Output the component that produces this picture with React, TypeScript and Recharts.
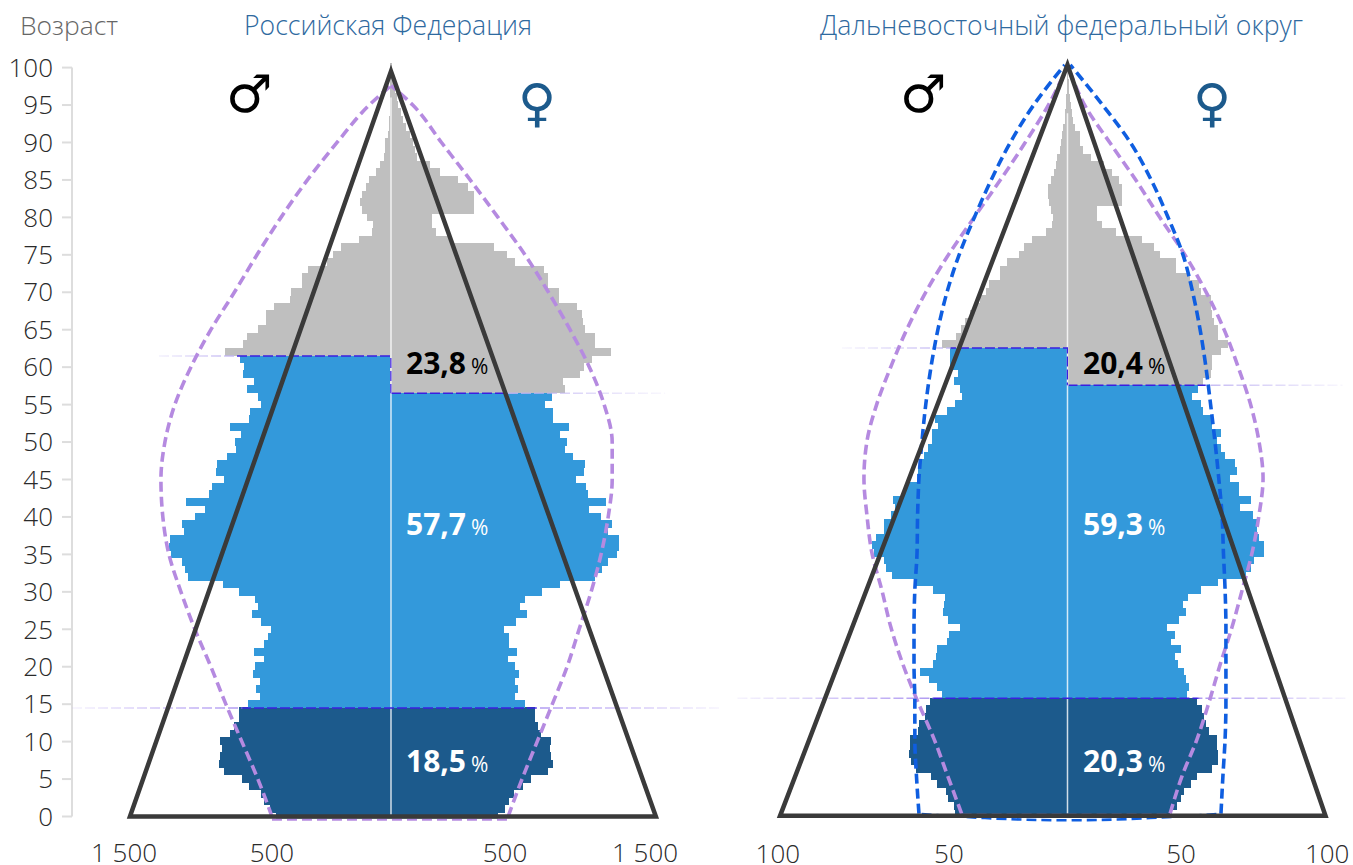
import React from "react";
import { Bar, Cell, ComposedChart, Line, XAxis, YAxis } from "recharts";

const AGE_TICKS = [0, 5, 10, 15, 20, 25, 30, 35, 40, 45, 50, 55, 60, 65, 70, 75, 80, 85, 90, 95, 100];

// thousand people, age 0 to 100
const leftMale = [
  657, 693, 727, 746, 812, 851, 954, 984, 978, 966,
  978, 921, 897, 871, 871, 816, 752, 770, 748, 788,
  776, 725, 782, 725, 701, 685, 742, 794, 764, 776,
  869, 960, 1162, 1179, 1196, 1259, 1271, 1265, 1185, 1196,
  1121, 1064, 1173, 1041, 1024, 955, 1001, 995, 937, 886,
  891, 857, 920, 811, 805, 742, 763, 822, 782, 845,
  840, 863, 949, 845, 822, 761, 713, 713, 667, 579,
  569, 508, 508, 473, 364, 330, 282, 182, 109, 100,
  134, 163, 173, 163, 138, 121, 86, 61, 38, 33,
  33, 15, 10, 10, 4, 2, 0, 0, 0, 0, 0,
];
const leftFemale = [
  614, 655, 673, 703, 758, 800, 897, 927, 915, 909,
  915, 857, 840, 822, 822, 770, 707, 725, 707, 731,
  707, 667, 719, 673, 673, 644, 713, 776, 741, 770,
  867, 966, 1169, 1208, 1242, 1294, 1305, 1305, 1242, 1265,
  1202, 1133, 1231, 1127, 1116, 1058, 1104, 1110, 1041, 995,
  1006, 966, 1018, 926, 926, 880, 920, 995, 983, 1081,
  1104, 1150, 1259, 1169, 1169, 1112, 1102, 1093, 1064, 960,
  960, 901, 901, 874, 709, 661, 587, 345, 255, 230,
  230, 472, 472, 472, 437, 385, 278, 220, 144, 134,
  125, 105, 86, 67, 54, 38, 29, 19, 12, 6, 2,
];
const rightMale = [
  40.6, 41, 43.1, 43.9, 47.3, 49.4, 54.9, 56.6, 57.5, 57.1,
  57.1, 54.2, 53.9, 51.6, 51.3, 49.8, 45.5, 47.3, 50.2, 53.5,
  48.8, 47.7, 47.3, 43.6, 42.8, 39, 43.4, 45.2, 44.8, 44.4,
  48.8, 55.5, 63.8, 65.9, 66.7, 70.3, 71, 69.6, 66.7, 66.7,
  64.1, 62.7, 63.4, 59.6, 58.4, 54.5, 54.2, 53.6, 52.1, 50.5,
  49.2, 49.2, 47, 48.1, 43.8, 40.8, 38.3, 39, 41.2, 39.8,
  42.7, 42.7, 42.7, 45.3, 40.5, 38.4, 37.2, 35.4, 33.6, 31.8,
  29.3, 28.5, 24.5, 24.5, 21.9, 17.6, 15.8, 12.7, 7.8, 5.5,
  5.1, 5.7, 6.7, 6.9, 6.9, 5.9, 4.8, 4.1, 3.6, 2.7,
  2.1, 1.7, 1.5, 0.8, 0.6, 0.5, 0.2, 0, 0, 0, 0,
];
const rightFemale = [
  37, 39.7, 41.1, 42.2, 44.7, 46.9, 52.4, 54.5, 54.5, 54.2,
  54.2, 51.3, 50.2, 49.4, 48.7, 46.9, 43.2, 44, 43, 42.2,
  39.9, 38.9, 41.1, 37.4, 38.9, 36, 40.3, 42.8, 41.8, 43.6,
  48.4, 54.5, 64.6, 66.4, 67.6, 71.1, 71.1, 69.3, 68.6, 68.6,
  67.1, 62.4, 66.4, 62.1, 62.1, 58.8, 61.3, 60.6, 57, 55.5,
  54.1, 55.5, 52.2, 52.2, 49, 48.2, 45, 47.1, 49, 51.9,
  52.2, 52.2, 55.5, 58.2, 54.7, 54.7, 53.1, 52.5, 52.1, 52.1,
  48.2, 47.6, 44.2, 39.1, 39.1, 33.3, 31.3, 26.8, 17.3, 12.2,
  10.4, 10.4, 19.8, 19.8, 19.8, 18.5, 15.9, 13.1, 8.2, 5.5,
  4.2, 4.2, 2.4, 1.9, 1.6, 1, 0.7, 0.5, 0.3, 0.1, 0,
];

// dashed curves, read every 5 years
const CURVE_AGES = [0, 5, 10, 15, 20, 25, 30, 35, 40, 45, 50, 55, 60, 65, 70, 75, 80, 85, 90, 95];
const leftCurveMale = [-684, -765, -857, -949, -1035, -1127, -1207, -1276, -1311, -1322, -1299, -1242, -1150, -1035, -900, -770, -632, -480, -310, -125];
const leftCurveFemale = [673, 753, 840, 927, 1012, 1081, 1150, 1207, 1248, 1271, 1271, 1225, 1140, 1029, 905, 770, 615, 455, 290, 125];
const rightCurveMale = [-38.5, -43.5, -48.5, -54.4, -59.8, -64.2, -67.5, -71.1, -72.9, -74, -72.9, -69.3, -64.2, -58.4, -51.5, -43.3, -34, -24.5, -15.5, -7.1];
const rightCurveFemale = [37.3, 41.6, 47.1, 51.5, 55.5, 59.8, 63.5, 67.1, 69.6, 71.1, 69.6, 66.5, 62, 56.9, 50.4, 42.7, 33.6, 24.9, 15.5, 6.4];
const regionCurveMale = [-54, -54.9, -55.5, -55.5, -55.8, -55.8, -55.5, -54.7, -54.5, -54, -52.9, -51.5, -49.6, -47.1, -43.8, -39.4, -33.9, -27.8, -20.9, -12.5];
const regionCurveFemale = [55.8, 56.5, 57.3, 57.6, 57.6, 57.6, 57.3, 56.7, 56.2, 55, 53.6, 52, 50.3, 48.2, 45.5, 42, 36.6, 30.5, 23, 13];

const leftTicks = [-1534, -684, 655, 1460];
const leftTickLabels = ["1 500", "500", "500", "1 500"];
const rightTicks = [-105.3, -43.1, 41.3, 94.4];
const rightTickLabels = ["100", "50", "50", "100"];

const DARK = "#1c5a8c";
const BLUE = "#3399db";
const GREY = "#bfbfbf";
const PURPLE = "#b58ae0";
const REGION = "#0f5ee0";
const TRI = "#3a3a3a";
const FONT = "'Open Sans', sans-serif";
const tickStyle = { fontSize: 26, fill: "#2a2a2a", fontFamily: FONT, fontWeight: 300 };

const rows = (m: number[], f: number[]) => m.map((v, i) => ({ age: i, male: -v, female: f[i] }));
const curve = (vals: number[], topAge: number, top = 0) => [
  ...CURVE_AGES.map((a, i) => ({ age: a, v: vals[i] })),
  { age: topAge, v: top },
];

function Text({ x, y, children, style }: any) {
  return (
    <div style={{ position: "absolute", left: x, top: y, whiteSpace: "nowrap", fontFamily: FONT, lineHeight: 1, ...style }}>
      {children}
    </div>
  );
}

function Pct({ x, y, value, color }: any) {
  return (
    <Text x={x} y={y} style={{ color, fontSize: 30, fontWeight: 700 }}>
      {value}
      <span style={{ fontSize: 21, fontWeight: 400, marginLeft: 5 }}>%</span>
    </Text>
  );
}

const fade = (id: string, y: number, x1: number, a: number, b: number, x2: number, end: string) => (
  <linearGradient id={id} gradientUnits="userSpaceOnUse" x1={x1} x2={x2} y1={y} y2={y}>
    <stop offset="0" stopColor={end} stopOpacity="0.1" />
    <stop offset={(a - x1) / (x2 - x1)} stopColor={end} stopOpacity="0.9" />
    <stop offset={(a - x1) / (x2 - x1) + 0.005} stopColor="#3a1fe0" />
    <stop offset={(b - x1) / (x2 - x1)} stopColor="#3a1fe0" />
    <stop offset={(b - x1) / (x2 - x1) + 0.005} stopColor={end} stopOpacity="0.9" />
    <stop offset="1" stopColor={end} stopOpacity="0.1" />
  </linearGradient>
);

const guide = (key: string, data: any[], id: string) => (
  <Line key={key} yAxisId="num" data={data} dataKey="v" type="linear" stroke={`url(#${id})`} strokeWidth={1.5} strokeDasharray="10 3" dot={false} isAnimationActive={false} />
);

function dashed(key: string, data: any[], color: string, width: number, type: any = "monotone") {
  return (
    <Line key={key} yAxisId="num" data={data} dataKey="v" type={type} stroke={color} strokeWidth={width} strokeDasharray="10 5" dot={false} isAnimationActive={false} />
  );
}

// bars are floored to whole pixels, the thin crisp stroke closes the gap between them
const cells = (data: any[], dark: number, blue: number) =>
  data.map((d) => {
    const c = d.age < dark ? DARK : d.age < blue ? BLUE : GREY;
    return <Cell key={d.age} fill={c} stroke={c} strokeWidth={1} shapeRendering="crispEdges" />;
  });

function LeftChart() {
  const data = rows(leftMale, leftFemale);
  return (
    <ComposedChart layout="vertical" width={730} height={865} data={data} stackOffset="sign" barCategoryGap={0} margin={{ top: 60.1, right: 0, bottom: 0, left: 0 }} style={{ position: "absolute", left: 0, top: 0 }}>
      <defs>
        {fade("lfA", 355, 150, 235, 391, 392, "#c0b4f2")}
        {fade("lfB", 392, 390, 391, 505, 665, "#c0b4f2")}
        {fade("lfC", 707, 72, 240, 535, 720, "#a890f0")}
      </defs>
      <XAxis type="number" domain={[-1833, 1948]} ticks={leftTicks} tickFormatter={(_v: number, i: number) => leftTickLabels[i]} interval={0} height={41} axisLine={false} tickLine={false} tick={tickStyle} tickMargin={14} />
      <YAxis yAxisId="num" type="number" dataKey="age" reversed domain={[-1, 101]} ticks={AGE_TICKS} interval={0} width={72} axisLine={false} tickSize={10} tickMargin={9} tickLine={{ stroke: "#ddd", strokeWidth: 2 }} tick={tickStyle} />
      <YAxis yAxisId="bars" type="category" dataKey="age" orientation="right" width={0} reversed hide padding={{ top: 3.745, bottom: 3.745 }} />
      <Line yAxisId="num" data={[{ age: 0, v: -1833 }, { age: 100, v: -1833 }]} dataKey="v" stroke="#ddd" strokeWidth={2} dot={false} isAnimationActive={false} />
      <Bar yAxisId="bars" dataKey="male" stackId="a" isAnimationActive={false}>{cells(data, 15, 62)}</Bar>
      <Bar yAxisId="bars" dataKey="female" stackId="a" isAnimationActive={false}>{cells(data, 15, 57)}</Bar>
      <Line yAxisId="num" data={[{ age: 0, v: 0 }, { age: 96, v: 0 }]} dataKey="v" stroke="#fff" strokeOpacity={0.8} strokeWidth={1.5} dot={false} isAnimationActive={false} />
      <Line yAxisId="num" data={[{ age: -0.42, v: -900 }, { age: -0.42, v: 900 }]} dataKey="v" stroke="#fff" strokeWidth={2.2} dot={false} isAnimationActive={false} />
      {guide("g1", [{ age: 61.5, v: -1333 }, { age: 61.5, v: 0 }, { age: 56.5, v: 0 }], "lfA")}
      {guide("g2", [{ age: 56.5, v: 0 }, { age: 56.5, v: 1575 }], "lfB")}
      {guide("g3", [{ age: 14.5, v: -1833 }, { age: 14.5, v: 1890 }], "lfC")}
      {dashed("c1", curve(leftCurveMale, 97.6), PURPLE, 3.6)}
      {dashed("c2", curve(leftCurveFemale, 97.6), PURPLE, 3.6)}
      {dashed("c3", [{ age: -0.42, v: -684 }, { age: -0.42, v: 673 }], PURPLE, 2.2, "linear")}
      <Line yAxisId="num" data={[{ age: 0, v: 0 }, { age: 0, v: -1500 }, { age: 99.5, v: 0 }, { age: 0, v: 1522 }, { age: 0, v: 0 }]} dataKey="v" stroke={TRI} strokeWidth={4.5} strokeLinejoin="miter" dot={false} isAnimationActive={false} />
    </ComposedChart>
  );
}

function RightChart() {
  const data = rows(rightMale, rightFemale);
  const base = [{ age: -0.05, v: -53 }, { age: -0.6, v: -30 }, { age: -0.9, v: 0 }, { age: -0.6, v: 30 }, { age: -0.05, v: 55 }];
  return (
    <ComposedChart layout="vertical" width={623} height={865} data={data} stackOffset="sign" barCategoryGap={0} margin={{ top: 53.7, right: 0, bottom: 0, left: 0 }} style={{ position: "absolute", left: 730, top: 0 }}>
      <defs>
        {fade("rgA", 349, 110, 220, 338, 338.5, "#c0b4f2")}
        {fade("rgB", 386, 336, 338, 475, 615, "#c0b4f2")}
        {fade("rgC", 698, 7, 201, 467, 618, "#a890f0")}
      </defs>
      <XAxis type="number" domain={[-122.7, 103.8]} ticks={rightTicks} tickFormatter={(_v: number, i: number) => rightTickLabels[i]} interval={0} height={36.5} axisLine={false} tickLine={false} tick={tickStyle} tickMargin={10} />
      <YAxis yAxisId="num" type="number" dataKey="age" reversed domain={[-2, 102]} width={0} hide />
      <YAxis yAxisId="bars" type="category" dataKey="age" orientation="right" width={0} reversed hide padding={{ top: 11.175, bottom: 11.175 }} />
      <Bar yAxisId="bars" dataKey="male" stackId="a" isAnimationActive={false}>{cells(data, 16, 63)}</Bar>
      <Bar yAxisId="bars" dataKey="female" stackId="a" isAnimationActive={false}>{cells(data, 16, 58)}</Bar>
      <Line yAxisId="num" data={[{ age: 0, v: 0 }, { age: 94, v: 0 }]} dataKey="v" stroke="#fff" strokeOpacity={0.8} strokeWidth={1.5} dot={false} isAnimationActive={false} />
      {guide("g1", [{ age: 62.5, v: -82 }, { age: 62.5, v: 0 }, { age: 57.5, v: 0 }], "rgA")}
      {guide("g2", [{ age: 57.5, v: 0 }, { age: 57.5, v: 100 }], "rgB")}
      {guide("g3", [{ age: 15.5, v: -120 }, { age: 15.5, v: 102 }], "rgC")}
      {dashed("c1", curve(rightCurveMale, 99.5, -1), PURPLE, 3.6)}
      {dashed("c2", curve(rightCurveFemale, 99.5, 1), PURPLE, 3.6)}
      {dashed("c3", [{ age: -0.2, v: -38.5 }, { age: -0.2, v: 37.3 }], PURPLE, 2.5, "linear")}
      {dashed("c4", curve(regionCurveMale, 100.5, -1), REGION, 3.6)}
      {dashed("c5", curve(regionCurveFemale, 100.5, 1), REGION, 3.6)}
      {dashed("c6", base, REGION, 2.6, "natural")}
      <Line yAxisId="num" data={[{ age: -0.3, v: 0 }, { age: -0.3, v: -104.5 }, { age: 100.5, v: 0 }, { age: -0.3, v: 93.8 }, { age: -0.3, v: 0 }]} dataKey="v" stroke={TRI} strokeWidth={4.5} strokeLinejoin="miter" dot={false} isAnimationActive={false} />
    </ComposedChart>
  );
}

export default function App() {
  const title = { fontSize: 26.6, fontWeight: 300, color: "#2f6a9f" };
  const sign = { fontSize: 52, fontFamily: "'DejaVu Sans', sans-serif" };
  return (
    <div style={{ position: "absolute", left: 0, top: 0, width: 1353, height: 865, overflow: "hidden", background: "#fff" }}>
      <LeftChart />
      <RightChart />
      <Text x={20} y={12} style={{ fontSize: 26.4, fontWeight: 300, color: "#666" }}>Возраст</Text>
      <Text x={244} y={12} style={title}>Российская Федерация</Text>
      <Text x={820} y={12} style={title}>Дальневосточный федеральный округ</Text>
      <Text x={226} y={68} style={{ ...sign, color: "#000" }}>♂</Text>
      <Text x={518} y={77} style={{ ...sign, color: DARK }}>♀</Text>
      <Text x={900} y={68} style={{ ...sign, color: "#000" }}>♂</Text>
      <Text x={1193} y={77} style={{ ...sign, color: DARK }}>♀</Text>
      <Pct x={406} y={348} value="23,8" color="#000" />
      <Pct x={406} y={509} value="57,7" color="#fff" />
      <Pct x={406} y={746} value="18,5" color="#fff" />
      <Pct x={1083} y={348} value="20,4" color="#000" />
      <Pct x={1083} y={509} value="59,3" color="#fff" />
      <Pct x={1083} y={746} value="20,3" color="#fff" />
    </div>
  );
}
